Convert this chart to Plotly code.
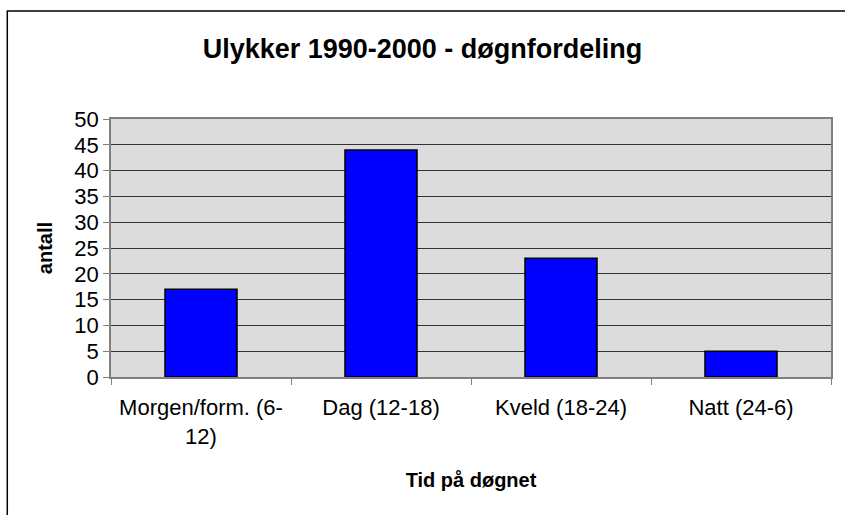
import plotly.graph_objects as go

# data
perioder = ["Morgen/form. (6-12)", "Dag (12-18)", "Kveld (18-24)", "Natt (24-6)"]
etiketter = ["Morgen/form. (6-<br>12)", "Dag (12-18)", "Kveld (18-24)", "Natt (24-6)"]
antall = [17, 44, 23, 5]
y_ticks = list(range(0, 55, 5))

FONT = "Liberation Sans, Arial, sans-serif"

fig = go.Figure(
    go.Bar(
        x=perioder,
        y=antall,
        width=0.4,
        marker=dict(color="#0000FF", line=dict(color="black", width=1.5)),
        showlegend=False,
    )
)

fig.update_layout(
    width=845,
    height=515,
    margin=dict(l=111, r=12, t=119, b=138),
    paper_bgcolor="white",
    plot_bgcolor="#dcdcdc",
    font=dict(family=FONT, color="black"),
    title=dict(
        text="<b>Ulykker 1990-2000 - døgnfordeling</b>",
        x=0.5,
        xref="container",
        y=1 - 49 / 515,
        yref="container",
        yanchor="middle",
        font=dict(size=27, family=FONT, color="black"),
    ),
)

fig.update_xaxes(
    type="category",
    tickmode="array",
    tickvals=perioder,
    ticktext=etiketter,
    tickson="boundaries",
    ticks="outside",
    ticklen=6,
    tickcolor="#808080",
    ticklabelstandoff=10,
    showline=True,
    linecolor="#808080",
    linewidth=1.5,
    mirror=True,
    showgrid=False,
    tickfont=dict(size=22, family=FONT),
    title=dict(text="<b>Tid på døgnet</b>", font=dict(size=20, family=FONT), standoff=25),
)

fig.update_yaxes(
    range=[0, 50],
    tickmode="array",
    tickvals=y_ticks,
    ticks="outside",
    ticklen=6,
    tickcolor="#808080",
    showline=True,
    linecolor="#808080",
    linewidth=1.5,
    mirror=True,
    showgrid=True,
    gridcolor="#333333",
    gridwidth=1,
    zeroline=False,
    tickfont=dict(size=22, family=FONT),
    title=dict(text="<b>antall</b>", font=dict(size=20, family=FONT), standoff=16),
)

# outer chart frame (runs off the right and bottom edges like the reference)
fig.add_shape(
    type="rect",
    xref="paper",
    yref="paper",
    x0=(7 - 111) / 722,
    x1=(860 - 111) / 722,
    y0=(377 - 530) / 258,
    y1=(377 - 11) / 258,
    line=dict(color="black", width=1.5),
    fillcolor="rgba(0,0,0,0)",
    layer="below",
)

fig.write_html(
    "out.html",
    config={"displayModeBar": False},
    post_script="document.body.style.margin='0px';",
)
